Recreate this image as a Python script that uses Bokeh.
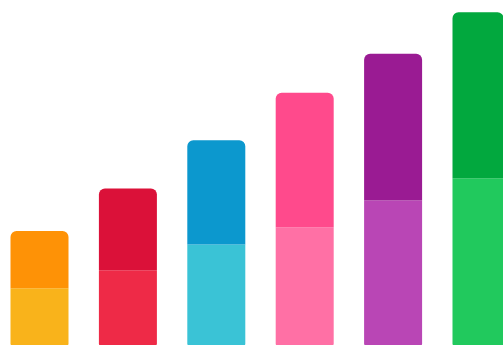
from bokeh.plotting import figure
from bokeh.models import ColumnDataSource, Range1d
from bokeh.embed import file_html
from bokeh.resources import INLINE

categories = ["A", "B", "C", "D", "E", "F"]
lower_values = [17, 22.3, 30, 35, 43, 49.6]
upper_values = [17, 24.3, 30.9, 40, 43.6, 49.3]
lower_colors = ["#F9B31B", "#EE2A47", "#3AC3D6", "#FF70A5", "#B946B5", "#21C95D"]
upper_colors = ["#FE9206", "#DB1139", "#0C98CE", "#FF4A8C", "#9A1B93", "#02A83E"]

xs = list(range(len(categories)))
tops = [a + b for a, b in zip(lower_values, upper_values)]

src = ColumnDataSource(dict(x=xs, lower=lower_values, top=tops,
                            lc=lower_colors, uc=upper_colors))

p = figure(width=503, height=345, output_backend="svg", toolbar_location=None,
           x_range=Range1d(-0.4412, 5.2489), y_range=Range1d(0, 345 / 3.37),
           min_border=0, min_border_left=0, min_border_right=0,
           min_border_top=0, min_border_bottom=0)
p.axis.visible = False
p.grid.visible = False
p.outline_line_color = None
p.background_fill_color = "white"
p.border_fill_color = "white"

w = 58 / 88.4
p.vbar(x="x", width=w, bottom=0, top="lower", fill_color="lc",
       line_color=None, source=src, border_radius=(0, 0, 2, 2))
p.vbar(x="x", width=w, bottom="lower", top="top", fill_color="uc",
       line_color=None, source=src, border_radius=(6, 6, 0, 0))

open("out.html", "w").write(file_html(p, INLINE))
